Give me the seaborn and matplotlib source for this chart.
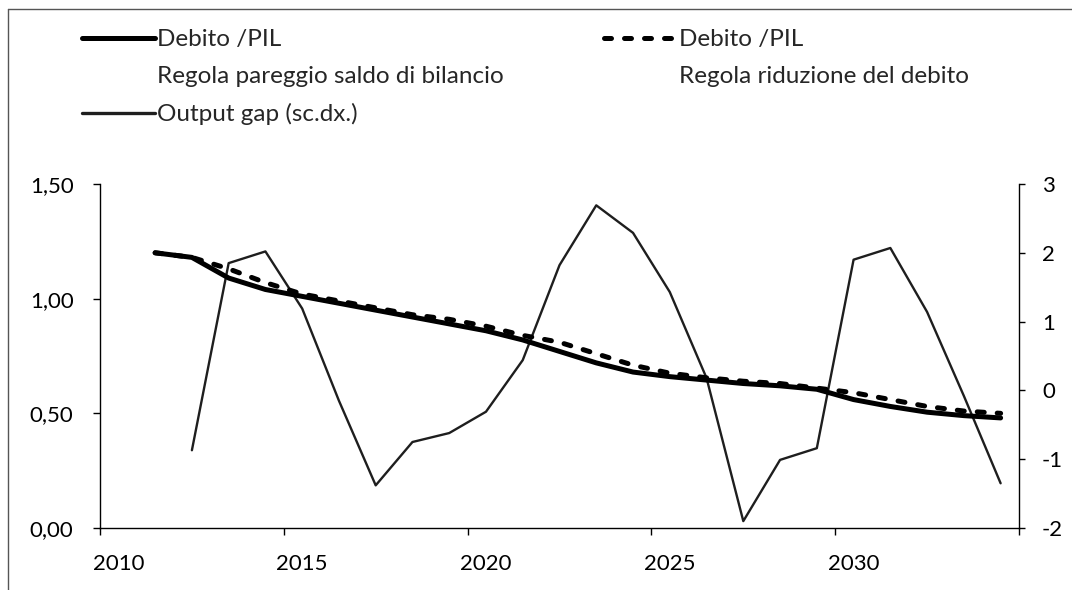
import matplotlib
matplotlib.use("Agg")
import matplotlib.pyplot as plt
from matplotlib.lines import Line2D
import seaborn as sns

# ---- data ----
years_debt = list(range(2011, 2035))
debt_pareggio = [1.20, 1.18, 1.09, 1.04, 1.01, 0.98, 0.95, 0.92, 0.89, 0.86, 0.82, 0.77,
                 0.72, 0.68, 0.66, 0.645, 0.63, 0.62, 0.605, 0.56, 0.53, 0.505, 0.49, 0.48]
debt_riduzione = [1.20, 1.18, 1.13, 1.07, 1.02, 0.99, 0.96, 0.93, 0.91, 0.88, 0.84, 0.81,
                  0.76, 0.71, 0.675, 0.655, 0.64, 0.63, 0.61, 0.59, 0.56, 0.53, 0.51, 0.50]

years_gap = list(range(2012, 2035))
output_gap = [-0.87, 1.85, 2.02, 1.19, -0.15, -1.38, -0.75, -0.62, -0.31, 0.44, 1.82, 2.69,
              2.29, 1.43, 0.18, -1.90, -1.01, -0.84, 1.90, 2.07, 1.14, -0.08, -1.35]

x_labels = ["2010", "2015", "2020", "2025", "2030"]
left_ticks = [0.0, 0.5, 1.0, 1.5]
left_labels = ["0,00", "0,50", "1,00", "1,50"]
right_ticks = [-2, -1, 0, 1, 2, 3]
right_labels = ["-2", "-1", "0", "1", "2", "3"]

legend_labels = ["Debito /PIL", "Regola pareggio saldo di bilancio", "Output gap (sc.dx.)",
                 "Debito /PIL", "Regola riduzione del debito", ""]

sns.set_theme(style="white")
plt.rcParams["font.family"] = ["Lato", "DejaVu Sans"]
plt.rcParams["axes.unicode_minus"] = False

W, H = 1072, 590
fig = plt.figure(figsize=(W / 100, H / 100), dpi=100)
ax = fig.add_axes([100 / W, 1 - 528 / H, (1019 - 100) / W, (528 - 184) / H])
ax2 = ax.twinx()

dash_style = (0, (1.4, 2.6))
gap_color = "#1e1e1e"

sns.lineplot(x=years_gap, y=output_gap, ax=ax2, color=gap_color, lw=1.7, legend=False)
sns.lineplot(x=years_debt, y=debt_pareggio, ax=ax, color="black", lw=3.6,
             solid_capstyle="round", legend=False)
sns.lineplot(x=years_debt, y=debt_riduzione, ax=ax, color="black", lw=3.6,
             linestyle=dash_style, dash_capstyle="round", legend=False)
ax.set_zorder(ax2.get_zorder() + 1)
ax.patch.set_visible(False)

# category style x axis: marks between years, labels in the middle of a year
ax.set_xlim(2009.5, 2034.5)
ax.set_xticks([2009.5 + 5 * i for i in range(6)])
ax.set_xticklabels([])
ax.set_xticks([2010 + 5 * i for i in range(5)], minor=True)
ax.set_xticklabels(x_labels, minor=True)
ax.tick_params(axis="x", which="major", direction="out", length=5, width=1, color="black", bottom=True)
ax.tick_params(axis="x", which="minor", length=0, pad=19, labelsize=16, labelcolor="black", bottom=True)

ax.set_ylim(0, 1.5)
ax.set_yticks(left_ticks)
ax.set_yticklabels(left_labels)
ax.tick_params(axis="y", direction="out", length=5, width=1, pad=14, labelsize=16,
               labelcolor="black", color="black", left=True)

ax2.set_ylim(-2, 3)
ax2.set_yticks(right_ticks)
ax2.set_yticklabels(right_labels)
ax2.tick_params(axis="y", direction="out", length=4.5, width=1, pad=12, labelsize=16,
                labelcolor="black", color="black", right=True)

for a in (ax, ax2):
    a.set_xlabel("")
    a.set_ylabel("")
    a.grid(False)
    a.spines["top"].set_visible(False)
    for s in ("left", "bottom", "right"):
        a.spines[s].set_color("black")
        a.spines[s].set_linewidth(1.0)
ax.spines["right"].set_visible(False)
ax2.spines["left"].set_visible(False)
ax2.spines["bottom"].set_visible(False)

# legend laid out like the Excel original: two columns, second text line without a key
handles = [
    Line2D([], [], color="black", lw=3.6),
    Line2D([], [], color="none"),
    Line2D([], [], color=gap_color, lw=2.4),
    Line2D([], [], color="black", lw=3.6, linestyle=dash_style, dash_capstyle="round"),
    Line2D([], [], color="none"),
    Line2D([], [], color="none"),
]
fig.legend(handles, legend_labels, ncol=2, loc="upper left",
           bbox_to_anchor=(82 / W, 1 - 29 / H), frameon=False, fontsize=17.5,
           handlelength=3.0, handletextpad=0.08, labelspacing=0.66,
           columnspacing=4.12, borderpad=0, borderaxespad=0)

# scanned page frame
fig.add_artist(Line2D([8 / W, 8 / W], [0, 1 - 9 / H], color="#555555", lw=1.0))
fig.add_artist(Line2D([8 / W, 1], [1 - 9 / H, 1 - 9 / H], color="#555555", lw=1.0))

fig.savefig("out.png", dpi=100, facecolor="white")
